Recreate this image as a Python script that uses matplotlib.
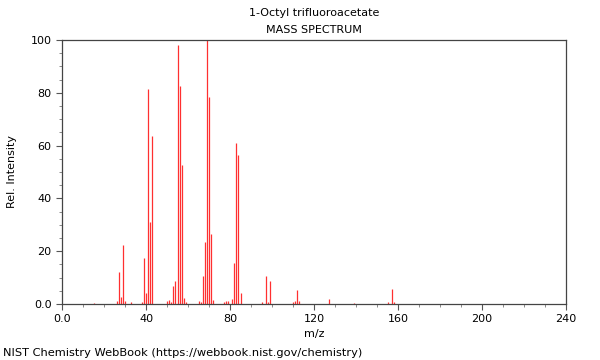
# Spectre de masse - 1-Octyl trifluoroacetate (style NIST WebBook)
import matplotlib
matplotlib.use("Agg")
import matplotlib.pyplot as plt
from matplotlib.ticker import MultipleLocator

# ---------------------------
# Donnees lues sur le spectre
# ---------------------------
mz = [15, 26, 27, 28, 29, 30, 33, 38, 39, 40, 41, 42, 43,
      50, 51, 52, 53, 54, 55, 56, 57, 58, 59,
      65, 66, 67, 68, 69, 70, 71, 72,
      77, 78, 79, 81, 82, 83, 84, 85,
      95, 97, 98, 99, 110, 111, 112, 113,
      127, 139, 155, 157, 158]
intensite = [0.5, 1.1, 12.2, 2.8, 22.3, 1.1, 0.9, 0.8, 17.3, 4.2, 81.3, 30.9, 63.6,
             1.2, 1.5, 0.8, 6.8, 8.8, 98.2, 82.6, 52.7, 2.4, 0.7,
             1.3, 0.8, 10.6, 23.6, 100.0, 78.3, 26.5, 1.5,
             0.6, 1.3, 1.1, 2.0, 15.5, 60.8, 56.4, 4.0,
             0.8, 10.7, 0.8, 8.7, 0.8, 1.0, 5.3, 1.0,
             1.8, 0.5, 0.9, 5.7, 0.8]

titre = "1-Octyl trifluoroacetate"
sous_titre = "MASS SPECTRUM"
source = "NIST Chemistry WebBook (https://webbook.nist.gov/chemistry)"

# ---------------------------
# Figure
# ---------------------------
fig = plt.figure(figsize=(6, 3.6), dpi=100)
ax = fig.add_axes([62 / 600, 1 - 304 / 360, 504 / 600, 264 / 360])

ax.vlines(mz, 0, intensite, colors="#ff3030", linewidth=0.9)

ax.set_xlim(0, 240)
ax.set_ylim(0, 100)
ax.xaxis.set_minor_locator(MultipleLocator(10))
ax.yaxis.set_minor_locator(MultipleLocator(5))

ax.set_xticks([0, 40, 80, 120, 160, 200, 240])
ax.set_xticklabels(["0.0", "40", "80", "120", "160", "200", "240"])
ax.set_yticks([0, 20, 40, 60, 80, 100])
ax.set_yticklabels(["0.0", "20", "40", "60", "80", "100"])

ax.tick_params(which="major", direction="out", length=4, width=0.8,
               color="#555555", labelsize=8)
ax.tick_params(which="minor", direction="out", length=2, width=0.6,
               color="#777777")
for sp in ax.spines.values():
    sp.set_color("#444444")
    sp.set_linewidth(0.9)

ax.set_xlabel("m/z", fontsize=8, labelpad=3)
ax.set_ylabel("Rel. Intensity", fontsize=8, labelpad=10)

fig.text(314 / 600, 1 - 13 / 360, titre, ha="center", va="center", fontsize=8)
fig.text(314 / 600, 1 - 30 / 360, sous_titre, ha="center", va="center", fontsize=8)
fig.text(3 / 600, 1 - 353 / 360, source, ha="left", va="center", fontsize=8.2)

fig.savefig("out.png", dpi=100)
